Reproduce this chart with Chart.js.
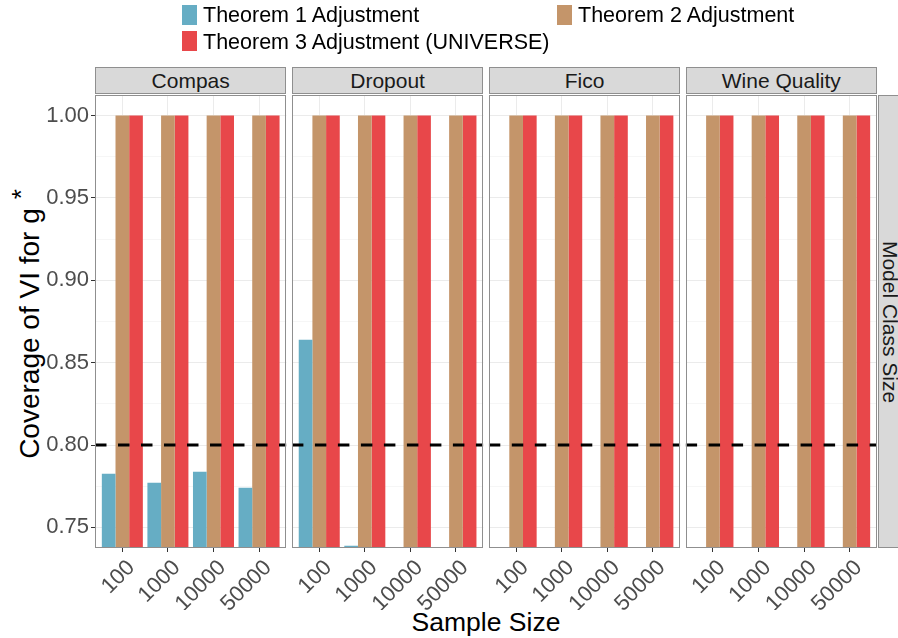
<!DOCTYPE html>
<html>
<head>
<meta charset="utf-8">
<title>Coverage of VI</title>
<script src="https://cdn.jsdelivr.net/npm/chart.js@4.4.0/dist/chart.umd.min.js"></script>
<style>
  body { margin: 0; width: 898px; height: 638px; position: relative; overflow: hidden; background: #fff;
         font-family: "Liberation Sans", Arial, Helvetica, sans-serif; }
  canvas { position: absolute; left: 0; top: 0; }
  .strip { position: absolute; top: 67px; height: 27px; background: #d9d9d9; border: 1px solid #8f8f8f;
           box-sizing: border-box; color: #1a1a1a; font-size: 21px; line-height: 26px; text-align: center; }
  .side { position: absolute; left: 878px; top: 95px; width: 30px; height: 453px; background: #d9d9d9;
          border: 1px solid #8f8f8f; box-sizing: border-box; }
  .side span { position: absolute; left: 50%; top: 50%; white-space: nowrap; font-size: 21px; color: #1a1a1a;
               transform: translate(-50%, -50%) rotate(90deg); margin-left: -3px; }
  .key { position: absolute; width: 15px; height: 20px; }
  .lbl { position: absolute; font-size: 21.5px; color: #000; white-space: nowrap; line-height: 24px; }
  .ytitle { position: absolute; left: 26px; top: 324px; white-space: nowrap; font-size: 28px; color: #000;
            transform: translate(-50%, -50%) rotate(-90deg); }
  .ytitle sup { font-size: 26px; vertical-align: 0.35em; margin-left: 9px; }
  .xtitle { position: absolute; left: 486px; top: 622px; transform: translate(-50%, -50%);
            font-size: 26.5px; color: #000; white-space: nowrap; }
</style>
</head>
<body>
<div class="ytitle">Coverage of VI for g<sup>*</sup></div>
<div class="xtitle">Sample Size</div>
<div class="side"><span>Model Class Size</span></div>

<script>
// facets, categories and series
const datasetNames = ['Compas', 'Dropout', 'Fico', 'Wine Quality'];
const sampleSizes = ['100', '1000', '10000', '50000'];
const seriesNames = ['Theorem 1 Adjustment', 'Theorem 2 Adjustment', 'Theorem 3 Adjustment (UNIVERSE)'];
const seriesColors = ['#66adc4', '#c4956a', '#e8474a'];

// coverage per facet (rows) and sample size (columns); null = below the plotted range
const theorem1 = [
  [0.7826, 0.7771, 0.7838, 0.7741],
  [0.8639, 0.7389, null, null],
  [null, null, null, null],
  [null, null, null, null]
];
const theorem2 = [
  [1.00, 1.00, 1.00, 1.00],
  [1.00, 1.00, 1.00, 1.00],
  [1.00, 1.00, 1.00, 1.00],
  [1.00, 1.00, 1.00, 1.00]
];
const theorem3 = [
  [1.00, 1.00, 1.00, 1.00],
  [1.00, 1.00, 1.00, 1.00],
  [1.00, 1.00, 1.00, 1.00],
  [1.00, 1.00, 1.00, 1.00]
];
const yTicks = [0.75, 0.775, 0.80, 0.825, 0.85, 0.875, 0.90, 0.925, 0.95, 0.975, 1.00];
const targetCoverage = 0.80;

// panel geometry
const panelLeft = [95, 291.9, 488.8, 685.6];
const panelWidth = 191.4;
const W = 898, H = 638;
const plotTop = 95, plotBottom = 548, xAxisH = 62;

const isMajor = v => Math.round(v * 1000) % 50 === 0;

// dashed reference line + panel border
const panelDecor = {
  id: 'panelDecor',
  afterDatasetsDraw(chart) {
    const { ctx, chartArea: a, scales: { y } } = chart;
    const yy = y.getPixelForValue(targetCoverage);
    ctx.save();
    ctx.beginPath();
    ctx.rect(a.left, a.top, a.right - a.left, a.bottom - a.top);
    ctx.clip();
    ctx.strokeStyle = '#000';
    ctx.lineWidth = 3;
    ctx.setLineDash([11.5, 11.5]);
    ctx.beginPath();
    ctx.moveTo(a.left, yy);
    ctx.lineTo(a.right, yy);
    ctx.stroke();
    ctx.restore();
    ctx.save();
    ctx.strokeStyle = '#8f8f8f';
    ctx.lineWidth = 1;
    ctx.strokeRect(Math.round(a.left) + 0.5, Math.round(a.top) + 0.5,
                   Math.round(a.right - a.left) - 1, Math.round(a.bottom - a.top) - 1);
    ctx.restore();
  }
};

function makePanel(p) {
  const canvas = document.createElement('canvas');
  canvas.width = W;
  canvas.height = H;
  document.body.appendChild(canvas);
  const first = p === 0;
  const yAxisW = first ? 50 : 0;
  const toPoints = arr => arr.map((v, i) => ({ x: i + 1, y: v }));
  const values = [theorem1[p], theorem2[p], theorem3[p]];

  new Chart(canvas, {
    type: 'bar',
    data: {
      datasets: seriesNames.map((name, s) => ({
        label: name,
        data: toPoints(values[s]),
        backgroundColor: seriesColors[s],
        borderWidth: 0,
        categoryPercentage: 0.9,
        barPercentage: 1.0
      }))
    },
    options: {
      responsive: false,
      animation: false,
      events: [],
      layout: {
        padding: {
          left: panelLeft[p] - yAxisW,
          right: W - (panelLeft[p] + panelWidth),
          top: plotTop,
          bottom: H - plotBottom - xAxisH
        }
      },
      plugins: { legend: { display: false }, tooltip: { enabled: false } },
      scales: {
        x: {
          type: 'linear',
          offset: false,
          min: 0.4,
          max: 4.6,
          afterBuildTicks: s => { s.ticks = sampleSizes.map((_, i) => ({ value: i + 1 })); },
          afterFit: s => { s.height = xAxisH; s.paddingLeft = 0; s.paddingRight = 0; },
          border: { display: false },
          grid: { offset: false, color: '#ebebeb', lineWidth: 1, tickLength: 4, tickColor: '#333' },
          ticks: {
            autoSkip: false,
            minRotation: 45,
            maxRotation: 45,
            padding: 3,
            labelOffset: 9,
            color: '#4d4d4d',
            font: { family: '"Liberation Sans", Arial, sans-serif', size: 22 },
            callback: v => sampleSizes[Math.round(v) - 1]
          }
        },
        y: {
          min: 0.7375,
          max: 1.0125,
          afterBuildTicks: s => { s.ticks = yTicks.map(v => ({ value: v })); },
          afterFit: s => { s.width = yAxisW; s.paddingTop = 0; s.paddingBottom = 0; },
          border: { display: false },
          grid: {
            color: c => (c.tick && isMajor(c.tick.value)) ? '#ebebeb' : '#f6f6f6',
            lineWidth: 1,
            drawTicks: first,
            tickLength: 4,
            tickColor: c => (c.tick && isMajor(c.tick.value)) ? '#333' : 'rgba(0,0,0,0)'
          },
          ticks: {
            display: first,
            padding: 2,
            color: '#4d4d4d',
            font: { family: '"Liberation Sans", Arial, sans-serif', size: 22 },
            callback: v => isMajor(v) ? v.toFixed(2) : ''
          }
        }
      }
    },
    plugins: [panelDecor]
  });

  const strip = document.createElement('div');
  strip.className = 'strip';
  strip.style.left = panelLeft[p] + 'px';
  strip.style.width = panelWidth + 'px';
  strip.textContent = datasetNames[p];
  document.body.appendChild(strip);
}

datasetNames.forEach((_, p) => makePanel(p));

// legend at the top
const legendPos = [
  { kx: 182, ky: 5, tx: 203, ty: 3 },
  { kx: 557, ky: 5, tx: 578, ty: 3 },
  { kx: 182, ky: 31, tx: 203, ty: 30 }
];
seriesNames.forEach((name, s) => {
  const k = document.createElement('div');
  k.className = 'key';
  k.style.left = legendPos[s].kx + 'px';
  k.style.top = legendPos[s].ky + 'px';
  k.style.background = seriesColors[s];
  document.body.appendChild(k);
  const t = document.createElement('div');
  t.className = 'lbl';
  t.style.left = legendPos[s].tx + 'px';
  t.style.top = legendPos[s].ty + 'px';
  t.textContent = name;
  document.body.appendChild(t);
});
</script>
</body>
</html>
